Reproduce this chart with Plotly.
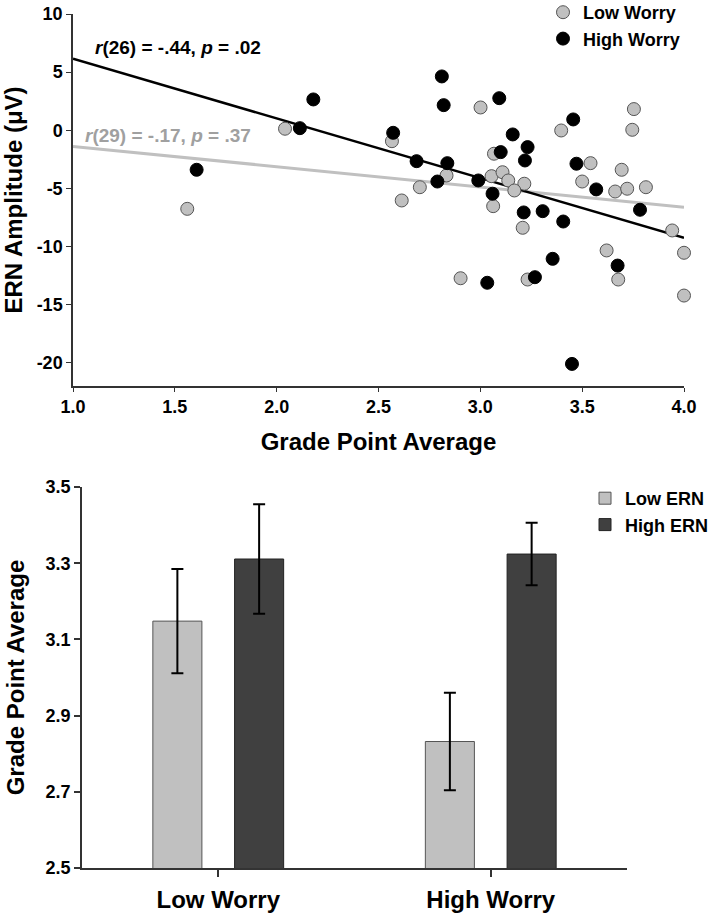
import plotly.graph_objects as go

# ---------------- Scatter data (GPA vs ERN amplitude) ----------------
low_gpa = [2.041, 1.561, 2.566, 3.001, 3.397, 3.754, 3.746, 3.067, 3.541, 3.694, 2.834,
           2.703, 2.614, 3.055, 3.109, 3.137, 3.216, 3.167, 3.50, 3.662, 3.721, 3.813,
           3.063, 3.208, 3.942, 4.0, 3.62, 2.903, 3.232, 3.677, 4.0]
low_ern = [0.13, -6.76, -0.94, 1.96, -0.02, 1.82, 0.04, -2.02, -2.83, -3.40, -3.89,
           -4.90, -6.04, -3.95, -3.61, -4.32, -4.60, -5.18, -4.41, -5.27, -5.03, -4.90,
           -6.53, -8.39, -8.62, -10.54, -10.34, -12.73, -12.84, -12.84, -14.22]

high_gpa = [1.607, 2.114, 2.18, 2.811, 2.82, 2.572, 2.687, 2.838, 2.789, 2.99, 3.093,
            3.159, 3.10, 3.232, 3.219, 3.06, 3.213, 3.306, 3.407, 3.456, 3.472, 3.569,
            3.784, 3.034, 3.268, 3.355, 3.674, 3.45]
high_ern = [-3.40, 0.18, 2.65, 4.63, 2.16, -0.22, -2.66, -2.83, -4.41, -4.32, 2.76,
            -0.36, -1.88, -1.45, -2.60, -5.46, -7.07, -6.96, -7.85, 0.93, -2.88, -5.09,
            -6.84, -13.12, -12.64, -11.06, -11.64, -20.1]

fit_gpa = [1.0, 4.0]
low_fit = [-1.39, -6.62]
high_fit = [6.15, -9.25]

scatter_xticks = [1.0, 1.5, 2.0, 2.5, 3.0, 3.5, 4.0]
scatter_xticktext = ["1.0", "1.5", "2.0", "2.5", "3.0", "3.5", "4.0"]
scatter_yticks = [10, 5, 0, -5, -10, -15, -20]
scatter_yticktext = ["10", "5", "0", "-5", "-10", "-15", "-20"]

# ---------------- Bar data ----------------
groups = ["Low Worry", "High Worry"]
low_ern_gpa = [3.148, 2.832]
low_ern_err = [0.137, 0.128]
high_ern_gpa = [3.311, 3.324]
high_ern_err = [0.144, 0.082]

bar_yticks = [2.5, 2.7, 2.9, 3.1, 3.3, 3.5]
bar_yticktext = ["2.5", "2.7", "2.9", "3.1", "3.3", "3.5"]

FONT = "Arial, Liberation Sans, sans-serif"
AX = "#333333"
GRAY = "#c0c0c0"
DARK = "#404040"

fig = go.Figure()

# regression lines
fig.add_trace(go.Scatter(x=fit_gpa, y=low_fit, mode="lines",
                         line=dict(color=GRAY, width=3), showlegend=False,
                         xaxis="x", yaxis="y"))
fig.add_trace(go.Scatter(x=fit_gpa, y=high_fit, mode="lines",
                         line=dict(color="black", width=2.5), showlegend=False,
                         xaxis="x", yaxis="y"))
# points
fig.add_trace(go.Scatter(x=low_gpa, y=low_ern, mode="markers", name="Low Worry",
                         marker=dict(size=13, color=GRAY, line=dict(color="#555555", width=1)),
                         cliponaxis=False, legend="legend", xaxis="x", yaxis="y"))
fig.add_trace(go.Scatter(x=high_gpa, y=high_ern, mode="markers", name="High Worry",
                         marker=dict(size=13, color="black", line=dict(color="black", width=1)),
                         cliponaxis=False, legend="legend", xaxis="x", yaxis="y"))

# bars
fig.add_trace(go.Bar(x=groups, y=low_ern_gpa, name="Low ERN",
                     marker=dict(color=GRAY, line=dict(color="#555555", width=1)),
                     error_y=dict(type="data", array=low_ern_err, color="black",
                                  thickness=2, width=6),
                     legend="legend2", xaxis="x2", yaxis="y2"))
fig.add_trace(go.Bar(x=groups, y=high_ern_gpa, name="High ERN",
                     marker=dict(color=DARK, line=dict(color="#222222", width=1)),
                     error_y=dict(type="data", array=high_ern_err, color="black",
                                  thickness=2, width=6),
                     legend="legend2", xaxis="x2", yaxis="y2"))

W, H = 708, 916

def px_x(p):
    return p / W

def px_y(p):
    return 1 - p / H

tickfont = dict(family=FONT, size=18, color="black", weight="bold")
titlefont = dict(family=FONT, size=24, color="black", weight="bold")

fig.update_layout(
    width=W, height=H,
    margin=dict(l=0, r=0, t=0, b=0, autoexpand=False),
    paper_bgcolor="white", plot_bgcolor="white",
    font=dict(family=FONT, color="black"),
    barmode="group", bargap=0.4, bargroupgap=0.4,
    xaxis=dict(domain=[px_x(73), px_x(684)], range=[1.0, 4.0], anchor="y",
               automargin=False,
               tickvals=scatter_xticks, ticktext=scatter_xticktext,
               showline=True, linecolor=AX, linewidth=1.5, mirror=False,
               ticks="outside", ticklen=4, tickcolor=AX, tickwidth=1,
               showgrid=False, zeroline=False, tickfont=tickfont,
               title=dict(text="Grade Point Average", font=titlefont, standoff=17)),
    yaxis=dict(domain=[px_y(386), px_y(14)], range=[-22, 10], anchor="x",
               automargin=False,
               tickvals=scatter_yticks, ticktext=scatter_yticktext,
               showline=True, linecolor=AX, linewidth=1.5,
               ticks="outside", ticklen=5, tickcolor=AX, tickwidth=1,
               showgrid=False, zeroline=False, tickfont=tickfont,
               title=dict(text="ERN Amplitude (\u03bcV)", font=titlefont, standoff=12)),
    xaxis2=dict(domain=[px_x(82), px_x(627)], range=[-0.5, 1.5], anchor="y2",
                automargin=False, type="category",
                showline=True, linecolor=AX, linewidth=1.5,
                ticks="outside", ticklen=7, tickcolor=AX, tickwidth=2,
                showgrid=False, zeroline=False, ticklabelstandoff=2,
                tickfont=dict(family=FONT, size=24, color="black", weight="bold")),
    yaxis2=dict(domain=[px_y(868), px_y(487)], range=[2.5, 3.5], anchor="x2",
                automargin=False,
                tickvals=bar_yticks, ticktext=bar_yticktext,
                showline=True, linecolor=AX, linewidth=1.5,
                ticks="outside", ticklen=6, tickcolor=AX, tickwidth=1.5,
                showgrid=False, zeroline=False, tickfont=tickfont,
                title=dict(text="Grade Point Average", font=titlefont, standoff=14)),
    legend=dict(x=px_x(543), y=px_y(-6), xanchor="left", yanchor="top",
                bgcolor="rgba(0,0,0,0)", borderwidth=0, tracegroupgap=0,
                font=dict(family=FONT, size=18, color="black", weight="bold")),
    legend2=dict(x=px_x(585), y=px_y(480), xanchor="left", yanchor="top",
                 bgcolor="rgba(0,0,0,0)", borderwidth=0,
                 font=dict(family=FONT, size=18, color="black", weight="bold")),
    annotations=[
        dict(text="<b><i>r</i>(26) = -.44, <i>p</i> = .02</b>", xref="x", yref="y",
             x=1.098, y=7.13, xanchor="left", yanchor="middle", showarrow=False,
             font=dict(family=FONT, size=19, color="black")),
        dict(text="<b><i>r</i>(29) = -.17, <i>p</i> = .37</b>", xref="x", yref="y",
             x=1.049, y=-0.45, xanchor="left", yanchor="middle", showarrow=False,
             font=dict(family=FONT, size=19, color="#a0a0a0")),
    ],
)

fig.write_html("out.html", config={"displayModeBar": False},
               post_script="document.body.style.margin='0';document.body.style.overflow='hidden';")
